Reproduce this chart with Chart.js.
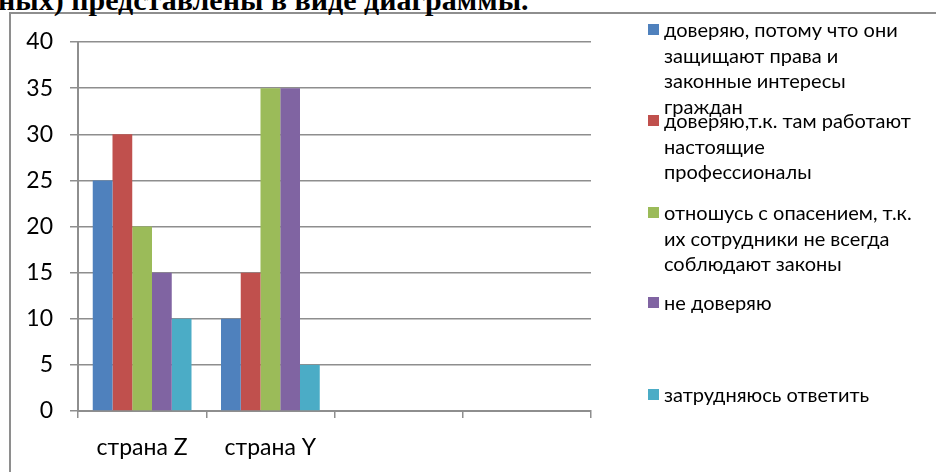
<!DOCTYPE html>
<html>
<head>
<meta charset="utf-8">
<script src="https://cdn.jsdelivr.net/npm/chart.js@4"></script>
<style>
  html, body { margin: 0; padding: 0; background: #fff; }
  body { width: 936px; height: 472px; position: relative; overflow: hidden; }
  #title { position: absolute; left: -2px; top: -15px; font: bold 30px/30px "Liberation Serif", "Times New Roman", serif; color: #000; white-space: nowrap; }
  #frame { position: absolute; left: 9px; top: 12px; width: 940px; height: 480px; border-left: 2px solid #8e8e8e; border-top: 2px solid #8e8e8e; box-sizing: border-box; background: #fff; }
  #wrap { position: absolute; left: 0; top: 0; width: 936px; height: 472px; }
  #legend { position: absolute; left: 0; top: 0; width: 936px; height: 472px; pointer-events: none; }
  .item { position: absolute; left: 648px; width: 270px; font: 20px/25.5px Lato, "Open Sans", sans-serif; color: #000; }
  .sw { position: absolute; left: 0; top: 7px; width: 11px; height: 11px; }
  .tx { margin-left: 16px; width: 249px; }
</style>
</head>
<body>
<div id="frame"></div>
<div id="title">ных) представлены в виде диаграммы.</div>
<div id="wrap"><canvas id="c" width="936" height="472"></canvas></div>
<div id="legend"></div>
<script>
const categories = ["страна Z", "страна Y", "", ""];
const seriesNames = [
  "доверяю, потому что они защищают права и законные интересы граждан",
  "доверяю,т.к. там работают настоящие профессионалы",
  "отношусь с опасением, т.к. их сотрудники не всегда соблюдают законы",
  "не доверяю",
  "затрудняюсь ответить"
];
const trustProtect = [25, 10, null, null];
const trustProfessionals = [30, 15, null, null];
const wary = [20, 35, null, null];
const distrust = [15, 35, null, null];
const hardToSay = [10, 5, null, null];
const yTicks = [0, 5, 10, 15, 20, 25, 30, 35, 40];

const colors = ["#4F81BD", "#C0504D", "#9BBB59", "#8064A2", "#4BACC6"];
const seriesValues = [trustProtect, trustProfessionals, wary, distrust, hardToSay];
const legendTops = [17, 108, 200, 290, 382];

const gridColor = "#8e8e8e";
const tickFont = { family: "Lato", size: 23 };

new Chart(document.getElementById("c"), {
  type: "bar",
  data: {
    labels: categories,
    datasets: seriesValues.map((v, i) => ({
      label: seriesNames[i],
      data: v,
      backgroundColor: colors[i],
      borderWidth: 0,
      barPercentage: 1,
      categoryPercentage: 0.77
    }))
  },
  options: {
    responsive: false,
    animation: false,
    devicePixelRatio: 1,
    layout: { padding: { left: 0, top: 42, right: 345, bottom: 0 } },
    plugins: { legend: { display: false }, tooltip: { enabled: false }, title: { display: false } },
    scales: {
      x: {
        grid: { display: true, drawOnChartArea: false, drawTicks: true, tickLength: 7, color: gridColor, lineWidth: 1.5, offset: true },
        border: { display: true, color: gridColor, width: 2 },
        ticks: { color: "#000", font: tickFont, padding: 16, maxRotation: 0 },
        afterFit: s => { s.height = 61; }
      },
      y: {
        min: 0, max: 40,
        afterBuildTicks: s => { s.ticks = yTicks.map(v => ({ value: v })); },
        grid: { color: gridColor, lineWidth: 1.5, tickLength: 8, drawTicks: true },
        border: { display: true, color: gridColor, width: 2 },
        ticks: { color: "#000", font: tickFont, padding: 17 },
        afterFit: s => { s.width = 78; }
      }
    }
  }
});

const lg = document.getElementById("legend");
seriesNames.forEach((name, i) => {
  const d = document.createElement("div");
  d.className = "item";
  d.style.top = legendTops[i] + "px";
  const sw = document.createElement("div");
  sw.className = "sw";
  sw.style.background = colors[i];
  const tx = document.createElement("div");
  tx.className = "tx";
  tx.textContent = name;
  d.appendChild(sw); d.appendChild(tx);
  lg.appendChild(d);
});
</script>
</body>
</html>
